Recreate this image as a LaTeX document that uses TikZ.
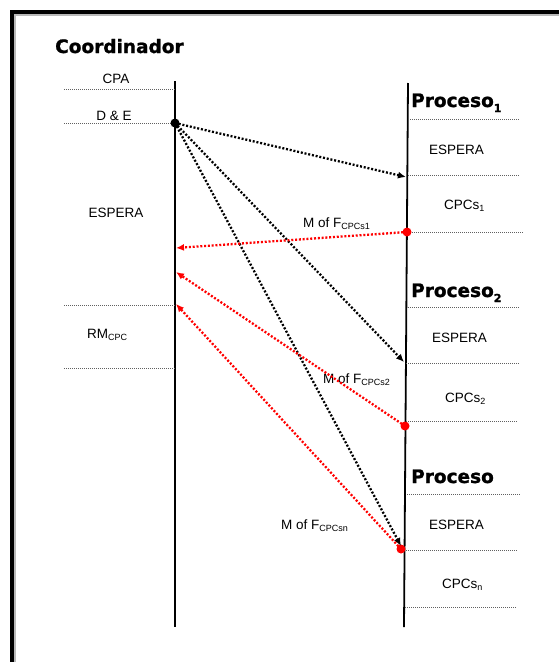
\documentclass[tikz,border=0pt]{standalone}
\usepackage{fontspec}
\setmainfont{Liberation Sans}
\newfontfamily\headfont[FakeBold=1.2]{DejaVu Sans Bold}
\usetikzlibrary{arrows.meta}

% lowered small text used for subscripts in labels
\newcommand\subtxt[1]{\raisebox{-2.5pt}{\fontsize{9}{9}\selectfont #1}}
\newcommand\headsub[1]{\raisebox{-5pt}{\fontsize{11}{11}\selectfont #1}}

\begin{document}
\begin{tikzpicture}[x=1pt,y=-1pt,
  lifeline/.style={line width=1.8pt, black},
  phase/.style={gray!75!black, line width=0.8pt, dash pattern=on 1pt off 1pt},
  msg/.style={line width=2.3pt, dash pattern=on 2pt off 1.8pt, -{Latex[length=8pt,width=7pt]}},
  reply/.style={msg, red},
  lbl/.style={font=\fontsize{13.5}{15}\selectfont, inner sep=0pt, anchor=base west},
  head/.style={font=\headfont\fontsize{18.5}{20}\selectfont, inner sep=0pt, anchor=base west},
  evdot/.style={circle, fill=#1, inner sep=0pt, minimum size=9pt}
]
\useasboundingbox (0,0) rectangle (559,662);

% page frame
\draw[line width=4pt] (12,662) -- (12,12) -- (559,12);
\draw[gray!55, line width=2pt] (15,662) -- (15,15) -- (559,15);

% titles
\node[head] (coord) at (55,53) {Coordinador};
\node[head] (proc1) at (411,107) {Proceso\headsub{1}};
\node[head] (proc2) at (411,297) {Proceso\headsub{2}};
\node[head] (proc3) at (411,483) {Proceso};

% lifelines
\coordinate (ctop) at (175,81);
\coordinate (cbot) at (175,627);
\coordinate (ptop) at (408,83);
\coordinate (pbot) at (404,627);
\draw[lifeline] (ctop) -- (cbot);
\draw[lifeline] (ptop) -- (pbot);

% coordinator phases
\coordinate (l1a) at (64,89);  \coordinate (l1b) at (175,89);
\coordinate (l2a) at (64,123); \coordinate (l2b) at (175,123);
\coordinate (l3a) at (64,305); \coordinate (l3b) at (175,305);
\coordinate (l4a) at (64,368); \coordinate (l4b) at (175,368);
\draw[phase] (l1a) -- (l1b);
\draw[phase] (l2a) -- (l2b);
\draw[phase] (l3a) -- (l3b);
\draw[phase] (l4a) -- (l4b);

\node[lbl, anchor=base] (cpa) at (116,83) {CPA};
\node[lbl, anchor=base] (de) at (114,120) {D \& E};
\node[lbl, anchor=base] (cesp) at (116,217) {ESPERA};
\node[lbl] (rm) at (87,338) {RM\subtxt{CPC}};

% process phases
\coordinate (r1a) at (410,119); \coordinate (r1b) at (520,119);
\coordinate (r2a) at (408,175); \coordinate (r2b) at (520,175);
\coordinate (r3a) at (408,232); \coordinate (r3b) at (523,232);
\coordinate (r4a) at (408,307); \coordinate (r4b) at (519,307);
\coordinate (r5a) at (406,363); \coordinate (r5b) at (519,363);
\coordinate (r6a) at (406,421); \coordinate (r6b) at (518,421);
\coordinate (r7a) at (407,494); \coordinate (r7b) at (520,494);
\coordinate (r8a) at (404,550); \coordinate (r8b) at (517,550);
\coordinate (r9a) at (405,607); \coordinate (r9b) at (517,607);
\foreach \i in {1,...,9} \draw[phase] (r\i a) -- (r\i b);

\node[lbl] (esp1) at (429,154) {ESPERA};
\node[lbl] (cpcs1) at (444,209) {CPCs\subtxt{1}};
\node[lbl] (esp2) at (432,342) {ESPERA};
\node[lbl] (cpcs2) at (445,402) {CPCs\subtxt{2}};
\node[lbl] (esp3) at (429,529) {ESPERA};
\node[lbl] (cpcsn) at (442,588) {CPCs\subtxt{n}};

% message labels
\node[lbl] (m1) at (303,227) {M of F\subtxt{CPCs1}};
\node[lbl] (m2) at (323,383) {M of F\subtxt{CPCs2}};
\node[lbl] (mn) at (281,529) {M of F\subtxt{CPCsn}};

% event points
\node[evdot=black] (de0) at (175,123) {};
\node[evdot=red] (f1) at (407,232) {};
\node[evdot=red] (f2) at (405,426) {};
\node[evdot=red] (fn) at (401,549) {};

% arrival points
\coordinate (in1) at (406,177);
\coordinate (in2) at (404,362);
\coordinate (inn) at (401,546);
\coordinate (back1) at (176,248);
\coordinate (back2) at (176,272);
\coordinate (backn) at (176,304);

% distribution messages
\draw[msg] (de0.center) -- (in1);
\draw[msg] (de0.center) -- (in2);
\draw[msg] (de0.center) -- (inn);

% replies
\draw[reply] (f1.center) -- (back1);
\draw[reply] (f2.center) -- (back2);
\draw[reply] (fn.center) -- (backn);
\end{tikzpicture}
\end{document}
